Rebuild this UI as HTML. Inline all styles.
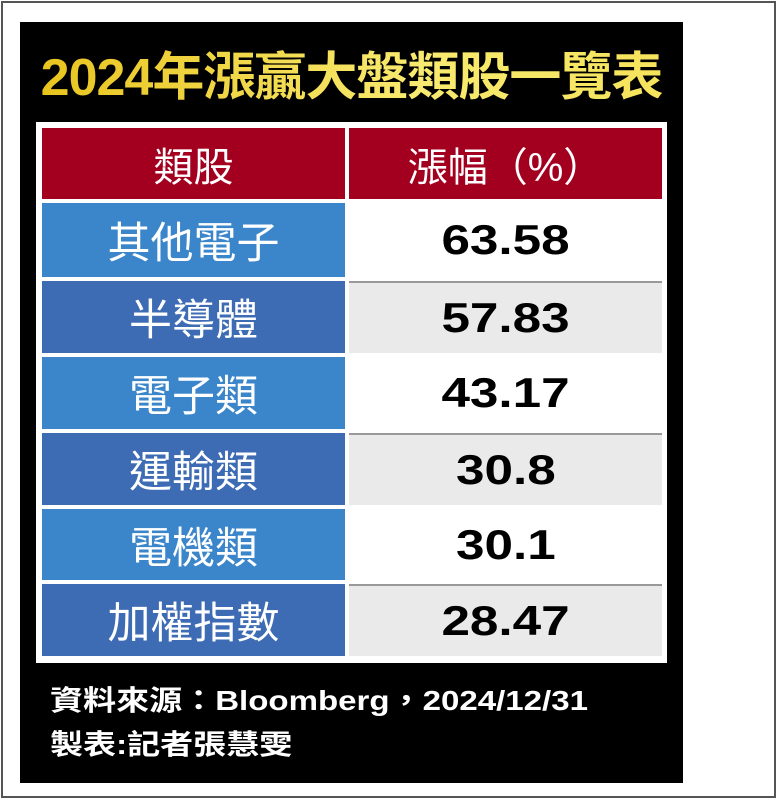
<!DOCTYPE html>
<html><head><meta charset="utf-8"><style>
body{margin:0;width:777px;height:800px;background:#fff;position:relative;overflow:hidden;font-family:"Liberation Sans","Noto Sans CJK TC",sans-serif}
.frame{position:absolute;left:1px;top:1px;width:771px;height:793px;border:2px solid #555;}
.panel{position:absolute;left:20px;top:22px;width:663px;height:761px;background:#000}
.title{position:absolute;left:20px;top:28px;width:663px;text-align:center;font-size:52px;font-weight:bold;letter-spacing:-1px;color:#f2cc1a;background:linear-gradient(90deg,#e8c21a,#f8ea70 60%,#f5e35a);-webkit-background-clip:text;background-clip:text;-webkit-text-fill-color:transparent;line-height:100px}
.tbl{position:absolute;left:36px;top:122px;width:631px;height:541px;background:#fff}
.c{position:absolute;display:flex;align-items:center;justify-content:center;color:#fff;font-size:43px}
.h{background:#a30020;top:128px;height:71px;font-size:40px}
.n{color:#000;font-weight:bold;font-size:42px}
.n span{display:inline-block;transform:scaleX(1.22)}
.foot{position:absolute;left:50px;color:#fff;font-size:28px;font-weight:bold;transform-origin:left;transform:scaleX(1.18)}
</style></head><body>
<div class="frame"></div>
<div class="panel"></div>
<div class="title">2024年漲贏大盤類股一覽表</div>
<div class="tbl"></div>
<div class="c h" style="left:42px;width:303px">類股</div>
<div class="c h" style="left:349px;width:313px">漲幅（%）</div>

<div class="c" style="left:42px;width:303px;top:203px;height:74px;background:#3b86ca">其他電子</div>
<div class="c n" style="left:349px;width:313px;top:203px;height:74px;background:#fff"><span>63.58</span></div>
<div class="c" style="left:42px;width:303px;top:281px;height:72px;background:#3d6bb4">半導體</div>
<div class="c n" style="left:349px;width:313px;top:281px;height:72px;background:#e9eae9;border-top:2px solid #999;box-sizing:border-box"><span>57.83</span></div>
<div class="c" style="left:42px;width:303px;top:357px;height:72px;background:#3b86ca">電子類</div>
<div class="c n" style="left:349px;width:313px;top:357px;height:72px;background:#fff"><span>43.17</span></div>
<div class="c" style="left:42px;width:303px;top:433px;height:72px;background:#3d6bb4">運輸類</div>
<div class="c n" style="left:349px;width:313px;top:433px;height:72px;background:#e9eae9;border-top:2px solid #999;box-sizing:border-box"><span>30.8</span></div>
<div class="c" style="left:42px;width:303px;top:509px;height:71px;background:#3b86ca">電機類</div>
<div class="c n" style="left:349px;width:313px;top:509px;height:71px;background:#fff"><span>30.1</span></div>
<div class="c" style="left:42px;width:303px;top:584px;height:72px;background:#3d6bb4">加權指數</div>
<div class="c n" style="left:349px;width:313px;top:584px;height:72px;background:#e9eae9;border-top:2px solid #999;box-sizing:border-box"><span>28.47</span></div>

<div class="foot" style="top:679px">資料來源：Bloomberg，2024/12/31</div>
<div class="foot" style="top:723px">製表:記者張慧雯</div>
</body></html>
